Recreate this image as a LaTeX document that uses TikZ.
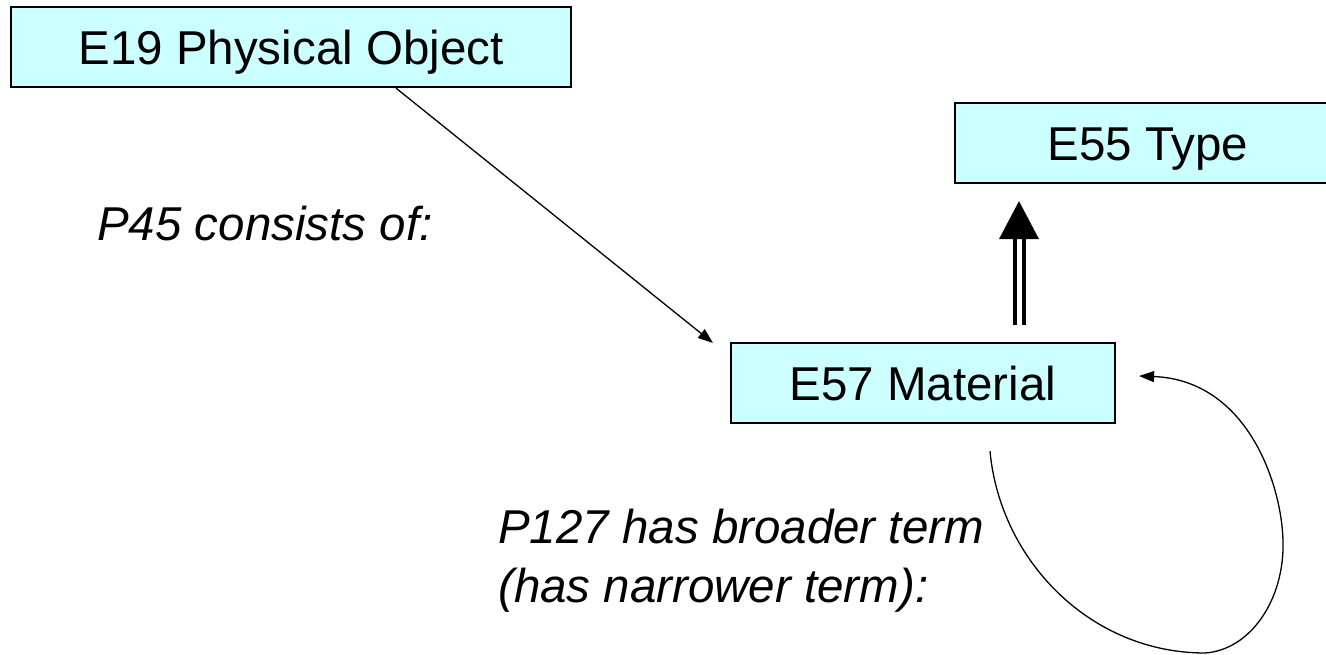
\documentclass[tikz,border=0pt]{standalone}
\usepackage{fontspec}
\setmainfont{Liberation Sans}
\usetikzlibrary{arrows.meta,calc}
\definecolor{boxcyan}{RGB}{204,255,255}
\begin{document}
\begin{tikzpicture}[x=1pt,y=-1pt,
  box/.style={draw=black, line width=2.2pt, fill=boxcyan, rectangle, inner sep=0pt,
    minimum height=80pt, font=\fontsize{47.5}{57}\selectfont, text height=34pt, text depth=0pt},
  lbl/.style={anchor=base west, inner sep=0pt, font=\fontsize{47.5}{57}\selectfont\itshape},
  rel/.style={line width=1.3pt, -{Triangle[length=15pt,width=11pt]}},
  isa/.style={line width=4pt, double distance=5pt}]
\useasboundingbox (0,0) rectangle (1326,654);
\clip (0,0) rectangle (1326,654);
\node[box, minimum width=386pt] (e55) at (1148,143) {E55 Type};
\node[box, minimum width=560pt] (e19) at (291,47) {E19 Physical Object};
\node[box, minimum width=384pt] (e57) at (923,383) {E57 Material};
\node[lbl] (p45) at (97,240) {P45 consists of:};
\node[lbl] (p127a) at (498,543) {P127 has broader term};
\node[lbl] (p127b) at (498,602) {(has narrower term):};
\coordinate (ax) at (1019,0);
% P45
\draw[rel] ([xshift=105pt]e19.south) -- ([xshift=-17pt,yshift=-1pt]e57.north west);
% IsA
\draw[isa] ($(ax |- e57.north)+(0,-17)$) -- ($(ax |- e55.south)+(0,55)$);
\fill ($(ax |- e55.south)+(0,17)$) -- ($(ax |- e55.south)+(-20,55)$) -- ($(ax |- e55.south)+(20,55)$) -- cycle;
% P127 self loop
\coordinate (ls) at ($(e57.south)+(67,27)$);
\coordinate (le) at ($(e57.east)+(23,-7)$);
\draw[rel] (ls) .. controls (1000,560) and (1090,653) .. (1205,653)
  .. controls (1250,650) and (1285,600) .. (1283,540)
  .. controls (1281,480) and (1245,380) .. (le);
\end{tikzpicture}
\end{document}
